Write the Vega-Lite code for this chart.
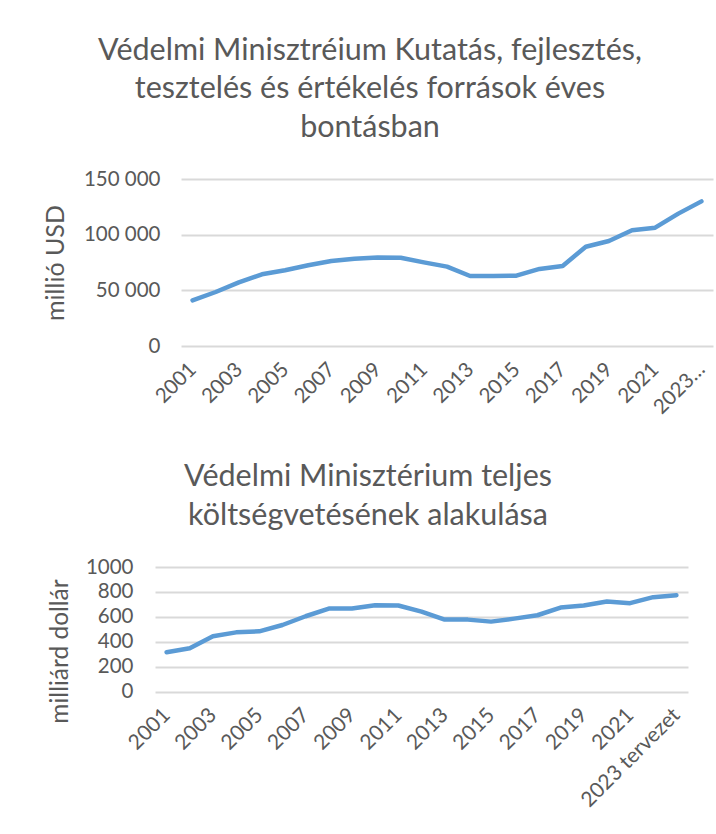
{
  "$schema": "https://vega.github.io/schema/vega-lite/v6.json",
  "background": "white",
  "padding": {"left": 43, "top": 35, "right": 2, "bottom": 2},
  "spacing": 44,
  "config": {
    "font": "Lato",
    "view": {"stroke": null},
    "axis": {
      "labelColor": "#595959",
      "titleColor": "#595959",
      "labelFont": "Lato",
      "titleFont": "Lato",
      "titleFontWeight": "normal",
      "domain": false,
      "ticks": false,
      "tickSize": 0,
      "gridColor": "#d9d9d9",
      "gridWidth": 1.8,
      "labelFontSize": 20.5,
      "titleFontSize": 24.5
    },
    "title": {
      "color": "#595959",
      "fontSize": 30.5,
      "fontWeight": "normal",
      "font": "Lato",
      "lineHeight": 38.5,
      "anchor": "middle",
      "frame": "group"
    },
    "line": {"color": "#5B9BD5", "strokeWidth": 4.5, "strokeCap": "round", "strokeJoin": "round"}
  },
  "datasets": {
    "kfi": [
      {"ev": "2001", "ertek": 41000},
      {"ev": "2002", "ertek": 48500},
      {"ev": "2003", "ertek": 57200},
      {"ev": "2004", "ertek": 64400},
      {"ev": "2005", "ertek": 68000},
      {"ev": "2006", "ertek": 72500},
      {"ev": "2007", "ertek": 76300},
      {"ev": "2008", "ertek": 78400},
      {"ev": "2009", "ertek": 79600},
      {"ev": "2010", "ertek": 79300},
      {"ev": "2011", "ertek": 75100},
      {"ev": "2012", "ertek": 71300},
      {"ev": "2013", "ertek": 62900},
      {"ev": "2014", "ertek": 62900},
      {"ev": "2015", "ertek": 63200},
      {"ev": "2016", "ertek": 69200},
      {"ev": "2017", "ertek": 71900},
      {"ev": "2018", "ertek": 89200},
      {"ev": "2019", "ertek": 94300},
      {"ev": "2020", "ertek": 103900},
      {"ev": "2021", "ertek": 106300},
      {"ev": "2022", "ertek": 118900},
      {"ev": "2023 tervezet", "ertek": 129900}
    ],
    "teljes": [
      {"ev": "2001", "ertek": 317},
      {"ev": "2002", "ertek": 349},
      {"ev": "2003", "ertek": 444},
      {"ev": "2004", "ertek": 476},
      {"ev": "2005", "ertek": 484},
      {"ev": "2006", "ertek": 535},
      {"ev": "2007", "ertek": 605},
      {"ev": "2008", "ertek": 667},
      {"ev": "2009", "ertek": 667},
      {"ev": "2010", "ertek": 694},
      {"ev": "2011", "ertek": 691},
      {"ev": "2012", "ertek": 642},
      {"ev": "2013", "ertek": 578},
      {"ev": "2014", "ertek": 578},
      {"ev": "2015", "ertek": 562},
      {"ev": "2016", "ertek": 586},
      {"ev": "2017", "ertek": 613},
      {"ev": "2018", "ertek": 675},
      {"ev": "2019", "ertek": 691},
      {"ev": "2020", "ertek": 723},
      {"ev": "2021", "ertek": 710},
      {"ev": "2022", "ertek": 758},
      {"ev": "2023 tervezet", "ertek": 774}
    ]
  },
  "vconcat": [
    {
      "data": {"name": "kfi"},
      "width": 558,
      "height": 167,
      "title": {
        "text": ["Védelmi Minisztréium Kutatás, fejlesztés,", "tesztelés és értékelés források éves", "bontásban"],
        "dx": -64,
        "offset": 26
      },
      "mark": {"type": "line"},
      "encoding": {
        "x": {
          "field": "ev",
          "type": "nominal",
          "sort": null,
          "scale": {"type": "point", "padding": 0.5, "range": [26, 558]},
          "axis": {
            "title": null,
            "grid": false,
            "labelAngle": -45,
            "labelAlign": "right",
            "labelBaseline": "middle",
            "labelPadding": 20,
            "labelOverlap": false,
            "labelFlush": false,
            "values": ["2001", "2003", "2005", "2007", "2009", "2011", "2013", "2015", "2017", "2019", "2021", "2023 tervezet"],
            "labelExpr": "datum.label == '2023 tervezet' ? '2023…' : datum.label"
          }
        },
        "y": {
          "field": "ertek",
          "type": "quantitative",
          "scale": {"domain": [0, 150000]},
          "axis": {
            "title": "millió USD",
            "titleFontSize": 25,
            "titlePadding": 15,
            "labelPadding": -5,
            "labelFlush": false,
            "values": [0, 50000, 100000, 150000],
            "labelExpr": "replace(format(datum.value, ','), ',', ' ')"
          }
        }
      }
    },
    {
      "data": {"name": "teljes"},
      "width": 533,
      "height": 124.7,
      "title": {
        "text": ["Védelmi Minisztérium teljes", "költségvetésének alakulása"],
        "dx": -53.5,
        "offset": 26
      },
      "mark": {"type": "line"},
      "encoding": {
        "x": {
          "field": "ev",
          "type": "nominal",
          "sort": null,
          "scale": {"type": "point", "padding": 0.5},
          "axis": {
            "title": null,
            "grid": false,
            "labelAngle": -45,
            "labelAlign": "right",
            "labelBaseline": "middle",
            "labelPadding": 20,
            "labelOverlap": false,
            "labelFlush": false,
            "labelFontSize": 21,
            "values": ["2001", "2003", "2005", "2007", "2009", "2011", "2013", "2015", "2017", "2019", "2021", "2023 tervezet"]
          }
        },
        "y": {
          "field": "ertek",
          "type": "quantitative",
          "scale": {"domain": [0, 1000]},
          "axis": {
            "title": "milliárd dollár",
            "titlePadding": 13,
            "titleY": 84,
            "labelPadding": 22,
            "labelFlush": false,
            "format": "d",
            "values": [0, 200, 400, 600, 800, 1000]
          }
        }
      }
    }
  ]
}
